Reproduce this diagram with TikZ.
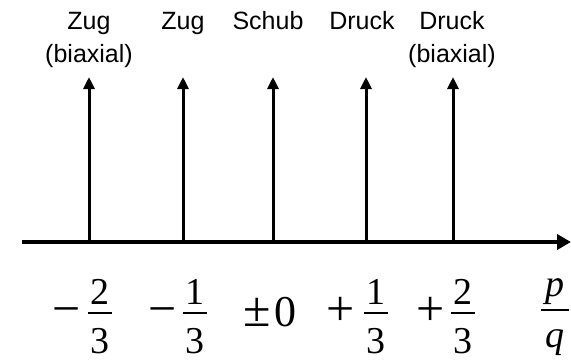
\documentclass[tikz,border=0pt]{standalone}
\usepackage{fontspec}
\usetikzlibrary{arrows.meta}
\newfontfamily\labfont{Liberation Sans}
\newfontfamily\serfont{Liberation Serif}
\begin{document}
\begin{tikzpicture}[x=1pt,y=-1pt,
  lab/.style={font=\labfont\fontsize{25}{30}\selectfont, inner sep=0pt, anchor=base},
  num/.style={font=\serfont\fontsize{38}{40}\selectfont, inner sep=0pt, anchor=base},
  sgn/.style={font=\serfont\fontsize{50}{54}\selectfont, inner sep=0pt, anchor=base},
  big/.style={font=\serfont\fontsize{44}{46}\selectfont, inner sep=0pt, anchor=base},
  stem/.style={line width=3pt, -{Triangle[length=12pt,width=11pt]}},
  axisline/.style={line width=3.5pt, -{Triangle[length=14pt,width=15pt]}},
  fbar/.style={line width=1.6pt}]
\useasboundingbox (0,0) rectangle (571,360);
% axis
\coordinate (a0) at (22,242);
\coordinate (a1) at (571,242);
\draw[axisline] (a0) -- (a1);
% stems
\foreach \i/\x in {1/89,2/183,3/273,4/366,5/453}{
  \coordinate (b\i) at (\x,242);
  \coordinate (t\i) at (\x,77);
  \draw[stem] (b\i) -- (t\i);
}
% labels
\node[lab] (l1a) at (89,29) {Zug};
\node[lab] (l1b) at (89,62) {(biaxial)};
\node[lab] (l2) at (183,29) {Zug};
\node[lab] (l3) at (268,29) {Schub};
\node[lab] (l4) at (362,29) {Druck};
\node[lab] (l5a) at (452,29) {Druck};
\node[lab] (l5b) at (452,62) {(biaxial)};
% fractions
\foreach \i/\x/\s/\sx/\n in {1/100/−/67/2,2/195/−/163/1,3/376/+/341/1,4/463/+/431/2}{
  \node[sgn] (s\i) at (\sx,325) {\s};
  \node[num] (n\i) at (\x,304) {\n};
  \node[num] (d\i) at (\x,353) {3};
  \coordinate (fl\i) at (\x-12,313);
  \coordinate (fr\i) at (\x+12,313);
  \draw[fbar] (fl\i) -- (fr\i);
}
% plus-minus zero
\node[sgn] (pm) at (257,326) {±};
\node[big] (zero) at (285,326) {0};
% p/q
\node[num] (p) at (555,296) {\itshape p};
\node[num] (q) at (555,347) {\itshape q};
\coordinate (pql) at (541,310);
\coordinate (pqr) at (569,310);
\draw[fbar] (pql) -- (pqr);
\end{tikzpicture}
\end{document}
